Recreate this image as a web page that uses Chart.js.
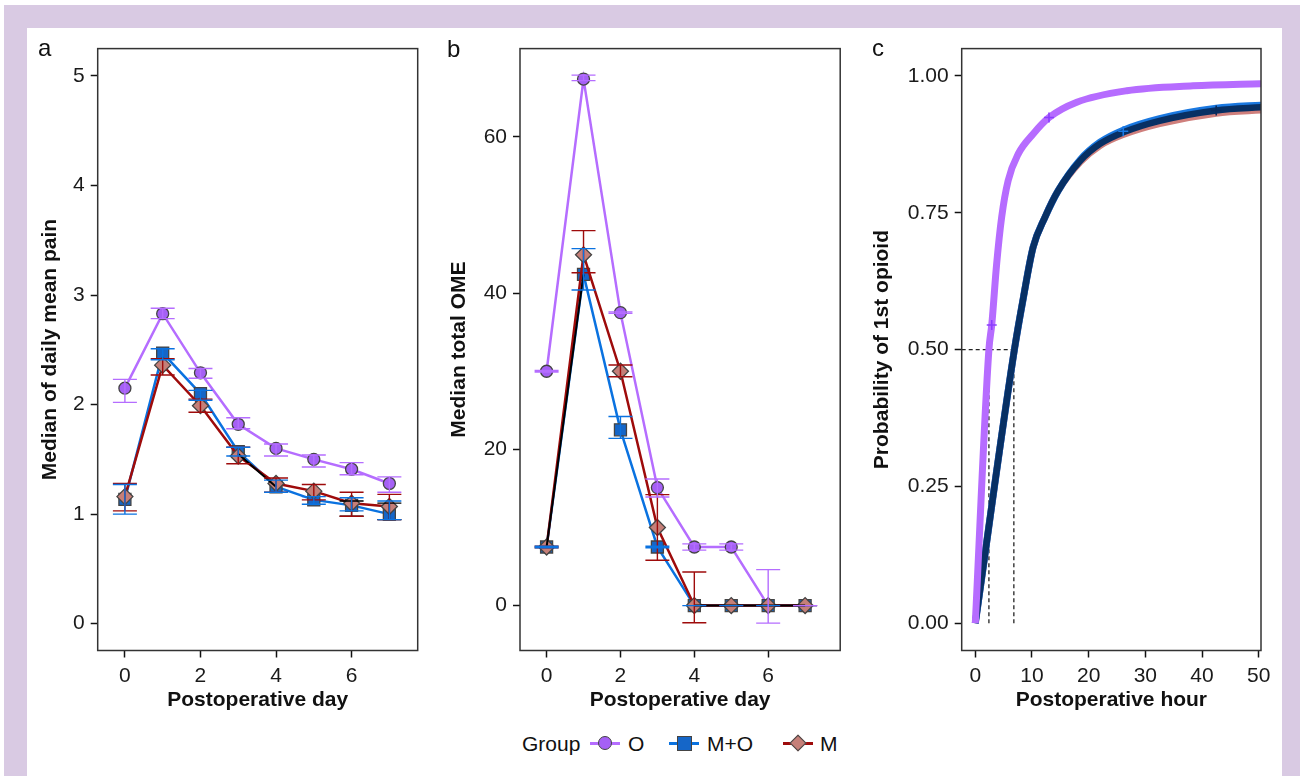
<!DOCTYPE html>
<html>
<head>
<meta charset="utf-8">
<script src="https://cdn.jsdelivr.net/npm/chart.js@4.4.1/dist/chart.umd.min.js"></script>
<style>
  body { margin: 0; background: #fff; font-family: "Liberation Sans", Arial, sans-serif; }
  #frame { position: absolute; left: 4px; top: 5px; width: 1296px; height: 771px; background: #d9cae3; }
  #inner { position: absolute; left: 27px; top: 28px; width: 1255px; height: 748px; background: #fff; }
  canvas { position: absolute; }
  .tag { position: absolute; font-size: 24px; line-height: 24px; color: #111; }
  .leg { position: absolute; top: 732.5px; font-size: 21px; line-height: 21px; color: #111; }
  .lline { position: absolute; top: 741.5px; width: 30px; height: 3px; }
  .mk { position: absolute; box-sizing: border-box; border: 1.5px solid #444; }
</style>
</head>
<body>
<div id="frame"></div>
<div id="inner"></div>

<canvas id="painChart" width="400" height="700" style="left:28px;top:30px"></canvas>
<canvas id="omeChart" width="410" height="700" style="left:440px;top:30px"></canvas>
<canvas id="kmChart" width="408" height="700" style="left:862px;top:30px"></canvas>

<div class="tag" style="left:38px;top:36px">a</div>
<div class="tag" style="left:447px;top:37px">b</div>
<div class="tag" style="left:872px;top:36px">c</div>

<!-- legend -->
<div class="leg" style="left:522px">Group</div>
<div class="lline" style="left:590px;background:#b56dff"></div>
<div class="mk" style="left:598px;top:736px;width:14px;height:14px;border-radius:50%;background:#a560f5"></div>
<div class="leg" style="left:628px">O</div>
<div class="lline" style="left:669px;background:#0a72e0"></div>
<div class="mk" style="left:676.5px;top:735.5px;width:15px;height:15px;background:#1566c8"></div>
<div class="leg" style="left:707px">M+O</div>
<div class="lline" style="left:783px;background:#9e0b0b"></div>
<div class="mk" style="left:792px;top:737px;width:12px;height:12px;background:#c57f78;transform:rotate(45deg)"></div>
<div class="leg" style="left:820px">M</div>

<script>
// ---- data ----
const days = [0, 1, 2, 3, 4, 5, 6, 7];

// a: median of daily mean pain
const painO   = [2.15, 2.83, 2.29, 1.82, 1.60, 1.50, 1.41, 1.28];
const painOLo = [2.02, 2.785, 2.24, 1.78, 1.53, 1.43, 1.36, 1.20];
const painOHi = [2.23, 2.88, 2.33, 1.88, 1.64, 1.54, 1.47, 1.34];
const painMO   = [1.135, 2.47, 2.10, 1.57, 1.25, 1.13, 1.08, 1.00];
const painMOLo = [1.00, 2.41, 2.04, 1.53, 1.20, 1.09, 1.03, 0.95];
const painMOHi = [1.27, 2.51, 2.13, 1.61, 1.31, 1.16, 1.15, 1.12];
const painM   = [1.16, 2.36, 1.99, 1.53, 1.28, 1.21, 1.10, 1.07];
const painMLo = [1.03, 2.27, 1.93, 1.46, 1.20, 1.13, 0.98, 0.95];
const painMHi = [1.28, 2.42, 2.05, 1.61, 1.33, 1.27, 1.20, 1.18];
const painAll   = [null, null, null, 1.55, 1.25, null, null, null];
const painAllLo = [null, null, null, null, null, null, 0.98, 0.95];
const painAllHi = [null, null, null, null, null, null, 1.12, 1.10];

// b: median total OME
const omeO   = [30, 67.4, 37.5, 15.1, 7.5, 7.5, 0, 0];
const omeOLo = [29.9, 67.2, 37.4, 13.9, 7.1, 7.1, -2.25, 0];
const omeOHi = [30.1, 67.9, 37.6, 16.2, 7.9, 7.9, 4.6, 0];
const omeMO   = [7.5, 42.4, 22.5, 7.5, 0, 0, 0, 0];
const omeMOLo = [7.4, 40.4, 21.4, 7.4, 0, 0, 0, 0];
const omeMOHi = [7.6, 45.7, 24.2, 7.6, 0, 0, 0, 0];
const omeM   = [7.5, 44.9, 30.0, 10.0, 0, 0, 0, 0];
const omeMLo = [7.4, 42.6, 29.3, 5.8, -2.2, 0, 0, 0];
const omeMHi = [7.6, 48.0, 30.8, 14.2, 4.3, 0, 0, 0];
const omeAll = [7.5, 42.4, null, null, 0, 0, 0, 0];

// c: probability of 1st opioid
const hoursO = [0, 2.4, 2.9, 3.77, 4.65, 5.8, 7.6, 10.2, 13, 17.9, 26.7, 38.4, 51];
const probO  = [0, 0.5, 0.545, 0.657, 0.742, 0.809, 0.858, 0.894, 0.924, 0.952, 0.973, 0.982, 0.986];
const hoursMO = [0, 6.9, 8.5, 10.2, 12.3, 14.6, 18.5, 22, 26.1, 32.5, 42.5, 51];
const probAll = [0, 0.5, 0.596, 0.687, 0.742, 0.79, 0.845, 0.876, 0.897, 0.918, 0.937, 0.943];
const probMO  = [0, 0.5, 0.596, 0.687, 0.742, 0.79, 0.847, 0.879, 0.901, 0.922, 0.941, 0.947];
const probM   = [0, 0.5, 0.596, 0.687, 0.742, 0.79, 0.843, 0.873, 0.893, 0.913, 0.932, 0.938];
const censorOHours = [2.9, 13];
const censorOProb  = [0.545, 0.924];
const censorMOHours = [26.1];
const censorMOProb  = [0.899];
const censorAllHours = [42.5];
const censorAllProb  = [0.937];
const medianHours = [2.4, 6.8];
const medianProb = 0.5;

const dayTicks = [0, 2, 4, 6];
const painTicks = [0, 1, 2, 3, 4, 5];
const omeTicks = [0, 20, 40, 60];
const hourTicks = [0, 10, 20, 30, 40, 50];
const probTicks = [0, 0.25, 0.5, 0.75, 1];

// ---- colours ----
const colO = '#b56dff', fillO = '#a560f5';
const colMO = '#0a72e0', fillMO = '#1566c8';
const colM = '#9e0b0b', fillM = '#c57f78';

Chart.defaults.font.family = '"Liberation Sans", Arial, sans-serif';
Chart.defaults.color = '#1a1a1a';
Chart.defaults.animation = false;

const pts = (xs, ys) => xs.map((x, i) => ({ x: x, y: ys[i] }));

// frame round the plot area
const framePlugin = {
    id: 'frame',
    afterDraw(chart) {
        const { ctx, chartArea: a } = chart;
        ctx.save();
        ctx.strokeStyle = '#333';
        ctx.lineWidth = 1.5;
        ctx.strokeRect(a.left, a.top, a.right - a.left, a.bottom - a.top);
        ctx.restore();
    }
};

// error bars from errLo / errHi on each dataset
const errorBarPlugin = {
    id: 'errorBars',
    afterDatasetsDraw(chart) {
        const { ctx, scales: { x, y } } = chart;
        chart.data.datasets.forEach(ds => {
            if (!ds.errLo) return;
            ctx.save();
            ctx.strokeStyle = ds.errColor;
            ctx.lineWidth = 1.4;
            ds.data.forEach((p, i) => {
                if (ds.errLo[i] == null) return;
                const px = x.getPixelForValue(p.x);
                const lo = y.getPixelForValue(ds.errLo[i]);
                const hi = y.getPixelForValue(ds.errHi[i]);
                ctx.beginPath();
                ctx.moveTo(px, lo); ctx.lineTo(px, hi);
                ctx.moveTo(px - 12, lo); ctx.lineTo(px + 12, lo);
                ctx.moveTo(px - 12, hi); ctx.lineTo(px + 12, hi);
                ctx.stroke();
            });
            ctx.restore();
        });
    }
};

function axisX(min, max, tickVals, title, fmt) {
    return {
        type: 'linear', min: min, max: max,
        afterBuildTicks: s => { s.ticks = tickVals.map(v => ({ value: v })); },
        afterFit: s => { s.height = 79.5; s.paddingLeft = 0; s.paddingRight = 0; },
        ticks: { font: { size: 21 }, color: '#1a1a1a', padding: 6, maxRotation: 0, autoSkip: false,
                 callback: fmt || (v => v) },
        grid: { drawOnChartArea: false, tickLength: 7, tickColor: '#111', tickWidth: 1.5 },
        border: { display: false },
        title: { display: true, text: title, color: '#111', font: { size: 21, weight: 'bold' },
                 padding: { top: 0, bottom: 17 } }
    };
}

function axisY(min, max, tickVals, title, width, titlePad, fmt) {
    return {
        type: 'linear', min: min, max: max,
        afterBuildTicks: s => { s.ticks = tickVals.map(v => ({ value: v })); },
        afterFit: s => { s.width = width; },
        ticks: { font: { size: 21 }, color: '#1a1a1a', padding: 6, autoSkip: false,
                 callback: fmt || (v => v) },
        grid: { drawOnChartArea: false, tickLength: 7, tickColor: '#111', tickWidth: 1.5 },
        border: { display: false },
        title: { display: true, text: title, color: '#111', font: { size: 21, weight: 'bold' },
                 padding: { top: titlePad, bottom: 0 } }
    };
}

function groupSet(label, vals, lo, hi, line, fill, style, radius, order) {
    return {
        label: label,
        data: pts(days, vals),
        borderColor: line, borderWidth: 2.5,
        pointStyle: style, pointRadius: radius,
        pointBackgroundColor: fill, pointBorderColor: '#444', pointBorderWidth: 1.3,
        errLo: lo, errHi: hi, errColor: line,
        order: order
    };
}

const baseOptions = (padRight, x, y) => ({
    responsive: false,
    layout: { padding: { top: 18.3, right: padRight, left: 0, bottom: 0 } },
    plugins: { legend: { display: false }, tooltip: { enabled: false } },
    scales: { x: x, y: y }
});

// a
new Chart(document.getElementById('painChart'), {
    type: 'line',
    data: {
        datasets: [
            { label: 'all', data: pts(days, painAll), borderColor: '#000', borderWidth: 2, pointRadius: 0,
              errLo: painAllLo, errHi: painAllHi, errColor: '#000', order: 0 },
            groupSet('M', painM, painMLo, painMHi, colM, fillM, 'rectRot', 8, 1),
            groupSet('M+O', painMO, painMOLo, painMOHi, colMO, fillMO, 'rect', 8.5, 2),
            groupSet('O', painO, painOLo, painOHi, colO, fillO, 'circle', 6, 3)
        ]
    },
    options: baseOptions(10.3,
        axisX(-0.72, 7.75, dayTicks, 'Postoperative day'),
        axisY(-0.245, 5.25, painTicks, 'Median of daily mean pain', 69.7, 9.5)),
    plugins: [errorBarPlugin, framePlugin]
});

// b
new Chart(document.getElementById('omeChart'), {
    type: 'line',
    data: {
        datasets: [
            { label: 'all', data: pts(days, omeAll), borderColor: '#000', borderWidth: 2, pointRadius: 0, order: 0 },
            groupSet('M', omeM, omeMLo, omeMHi, colM, fillM, 'rectRot', 8, 1),
            groupSet('M+O', omeMO, omeMOLo, omeMOHi, colMO, fillMO, 'rect', 8.5, 2),
            groupSet('O', omeO, omeOLo, omeOHi, colO, fillO, 'circle', 6, 3)
        ]
    },
    options: baseOptions(9.3,
        axisX(-0.72, 7.95, dayTicks, 'Postoperative day'),
        axisY(-5.75, 71.3, omeTicks, 'Median total OME', 80, 6.5)),
    plugins: [errorBarPlugin, framePlugin]
});

// c
const kmLine = (xs, ys, color, width, order) => ({
    data: pts(xs, ys), borderColor: color, borderWidth: width, pointRadius: 0,
    cubicInterpolationMode: 'monotone', borderCapStyle: 'butt', order: order
});
const censor = (xs, ys, color) => ({
    type: 'scatter', data: pts(xs, ys), pointStyle: 'cross', pointRadius: 5,
    borderColor: color, pointBorderWidth: 1.6, order: 0
});
const dashed = (data) => ({
    data: data, borderColor: '#222', borderWidth: 1.3, borderDash: [4, 3], pointRadius: 0, order: 10
});

new Chart(document.getElementById('kmChart'), {
    type: 'line',
    data: {
        datasets: [
            dashed([{ x: -2.4, y: medianProb }, { x: medianHours[1], y: medianProb }]),
            dashed([{ x: medianHours[0], y: 0 }, { x: medianHours[0], y: medianProb }]),
            dashed([{ x: medianHours[1], y: 0 }, { x: medianHours[1], y: medianProb }]),
            kmLine(hoursMO, probM, '#cf7f7c', 7, 6),
            kmLine(hoursMO, probMO, '#1a78e0', 7, 5),
            kmLine(hoursMO, probAll, '#083064', 6.5, 4),
            kmLine(hoursO, probO, '#b66cff', 7, 3),
            censor(censorOHours, censorOProb, '#8b3dff'),
            censor(censorMOHours, censorMOProb, '#1a7ae8'),
            censor(censorAllHours, censorAllProb, '#0a2a5a')
        ]
    },
    options: baseOptions(9,
        axisX(-2.4, 50.4, hourTicks, 'Postoperative hour'),
        axisY(-0.05, 1.05, probTicks, 'Probability of 1st opioid', 99.7, 8, v => v.toFixed(2))),
    plugins: [framePlugin]
});
</script>
</body>
</html>
